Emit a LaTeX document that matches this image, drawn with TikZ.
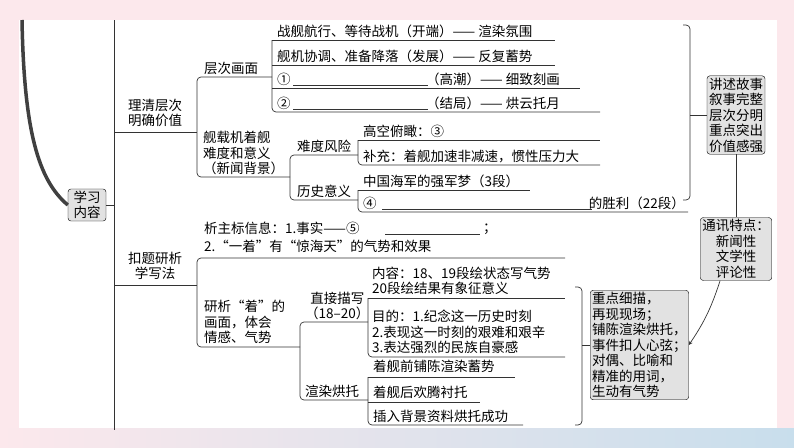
\documentclass[tikz,border=0pt]{standalone}
\usepackage{fontspec}
\setmainfont{Noto Sans CJK SC}
\usepackage{tikz}
\definecolor{bgpink}{RGB}{252,232,236}
\definecolor{bgblue}{RGB}{200,222,236}
\definecolor{boxgray}{RGB}{226,226,226}
\tikzset{
  txt/.style={inner sep=1pt, font=\fontsize{13.5}{15.5}\selectfont, align=left},
  ln/.style={line width=0.7pt, black!80},
  brk/.style={line width=0.7pt, black!80, rounded corners=4pt},
  gbox/.style={draw, fill=boxgray, rounded corners=3pt, inner sep=2pt, font=\fontsize{13.5}{15.5}\selectfont, align=center}
}
\begin{document}
\begin{tikzpicture}[x=1pt, y=-1pt]
        \useasboundingbox (0,0) rectangle (794,447);
        \fill[bgpink] (0,0) rectangle (794,447);
        \shade[left color=bgpink, right color=bgblue] (0,428) rectangle (794,447);
        \fill[white] (19,20) rectangle (777,428);

        % left spine
        \node[gbox, minimum width=38pt] (study) at (87,205) {学习\\内容};
        \draw[line width=3.5pt, black!75] (22,20) .. controls (24,130) and (38,180) .. (study.west);
        \draw[ln] (114,20) -- (114,430);
        \draw[ln] (study.east) -- (114,205);

        % branch 1
        \node[txt, align=center, anchor=south] (clear) at (155,128) {理清层次\\明确价值};
        \draw[brk] (114,132) -- (197,132);
        \draw[brk] (290,177) -- (197,177) -- (197,77) -- (272,77);
        \node[txt, anchor=south west] (layer) at (203,76) {层次画面};
        \draw[brk] (272,40) -- (272,112) -- (600,112);
        \draw[ln] (272,40) -- (555,40);
        \draw[ln] (272,65) -- (555,65);
        \draw[ln] (272,88) -- (580,88);
        \node[txt, anchor=south west] (s1) at (276,39) {战舰航行、等待战机（开端）—— 渲染氛围};
        \node[txt, anchor=south west] (s2) at (276,64) {舰机协调、准备降落（发展）—— 反复蓄势};
        \node[txt, anchor=south west] (s3) at (276,87) {①};
        \node[txt, anchor=south west] (s3b) at (425,87) {（高潮）—— 细致刻画};
        \node[txt, anchor=south west] (s4) at (276,111) {②};
        \node[txt, anchor=south west] (s4b) at (425,111) {（结局）—— 烘云托月};
        \draw[ln] (293,85) -- (428,85);
        \draw[ln] (293,109) -- (428,109);

        \node[txt, anchor=south west] (land) at (202,176) {舰载机着舰\\难度和意义\\（新闻背景）};
        \draw[brk] (358,155) -- (290,155) -- (290,200) -- (358,200);
        \node[txt, anchor=south west] (risk) at (296,154) {难度风险};
        \node[txt, anchor=south west] (hist) at (296,199) {历史意义};
        \draw[brk] (358,140) -- (358,165) -- (600,165);
        \draw[ln] (358,140) -- (600,140);
        \node[txt, anchor=south west] (r1) at (362,139) {高空俯瞰：③};
        \node[txt, anchor=south west] (r2) at (362,164) {补充：着舰加速非减速，惯性压力大};
        \draw[brk] (358,190) -- (358,212) -- (688,212);
        \draw[ln] (358,190) -- (530,190);
        \node[txt, anchor=south west] (h1) at (362,189) {中国海军的强军梦（3段）};
        \node[txt, anchor=south west] (h2) at (362,211) {④};
        \node[txt, anchor=south east] (h2b) at (686,211) {的胜利（22段）};
        \draw[ln] (382,209) -- (592,209);

        % right side
        \draw[brk] (683,25) -- (690,25) -- (690,200) -- (683,200);
        \node[gbox] (story) at (736,115) {讲述故事\\叙事完整\\层次分明\\重点突出\\价值感强};
        \draw[ln] (690,115) -- (story.west);
        \node[gbox] (news) at (736,249) {通讯特点：\\新闻性\\文学性\\评论性};
        \draw[ln] (story.south) -- (news.north);

        % branch 2
        \node[txt, align=center, anchor=south] (title) at (155,281) {扣题研析\\学写法};
        \draw[ln] (114,285) -- (197,285);
        \node[txt, anchor=south west] (mark) at (203,236) {析主标信息：1.事实——⑤};
        \node[txt, anchor=south west] (semi) at (482,236) {；};
        \draw[ln] (385,234) -- (480,234);
        \node[txt, anchor=south west] (mark2) at (203,254) {2.“一着”有“惊海天”的气势和效果};
        \draw[brk] (300,347) -- (197,347) -- (197,258) -- (565,258);
        \node[txt, anchor=south west] (study2) at (203,345) {研析“着”的\\画面，体会\\情感、气势};
        \draw[brk] (368,322) -- (300,322) -- (300,400) -- (368,400);
        \node[txt, anchor=south west, align=center] (direct) at (304,321) {直接描写\\（18–20）};
        \node[txt, anchor=south west] (render) at (304,399) {渲染烘托};
        \draw[brk] (368,298) -- (368,357) -- (565,357);
        \draw[ln] (368,298) -- (565,298);
        \node[txt, anchor=south west] (d1) at (371,296) {内容：18、19段绘状态写气势\\20段绘结果有象征意义};
        \node[txt, anchor=south west] (d2) at (371,355) {目的：1.纪念这一历史时刻\\2.表现这一时刻的艰难和艰辛\\3.表达强烈的民族自豪感};
        \draw[brk] (368,377) -- (368,425) -- (523,425);
        \draw[ln] (368,377) -- (515,377);
        \draw[ln] (368,402) -- (480,402);
        \node[txt, anchor=south west] (e1) at (372,374) {着舰前铺陈渲染蓄势};
        \node[txt, anchor=south west] (e2) at (372,400) {着舰后欢腾衬托};
        \node[txt, anchor=south west] (e3) at (372,424) {插入背景资料烘托成功};

        \draw[brk] (575,287) -- (582,287) -- (582,425) -- (575,425);
        \node[gbox, align=left, anchor=west] (detail) at (590,345) {重点细描，\\再现现场；\\铺陈渲染烘托，\\事件扣人心弦；\\对偶、比喻和\\精准的用词，\\生动有气势};
        \draw[ln] (582,345) -- (detail.west);
        \draw[ln, ->, >=stealth] (news.south west) ++(20,0) to[bend left=8] (detail.east);
\end{tikzpicture}
\end{document}
